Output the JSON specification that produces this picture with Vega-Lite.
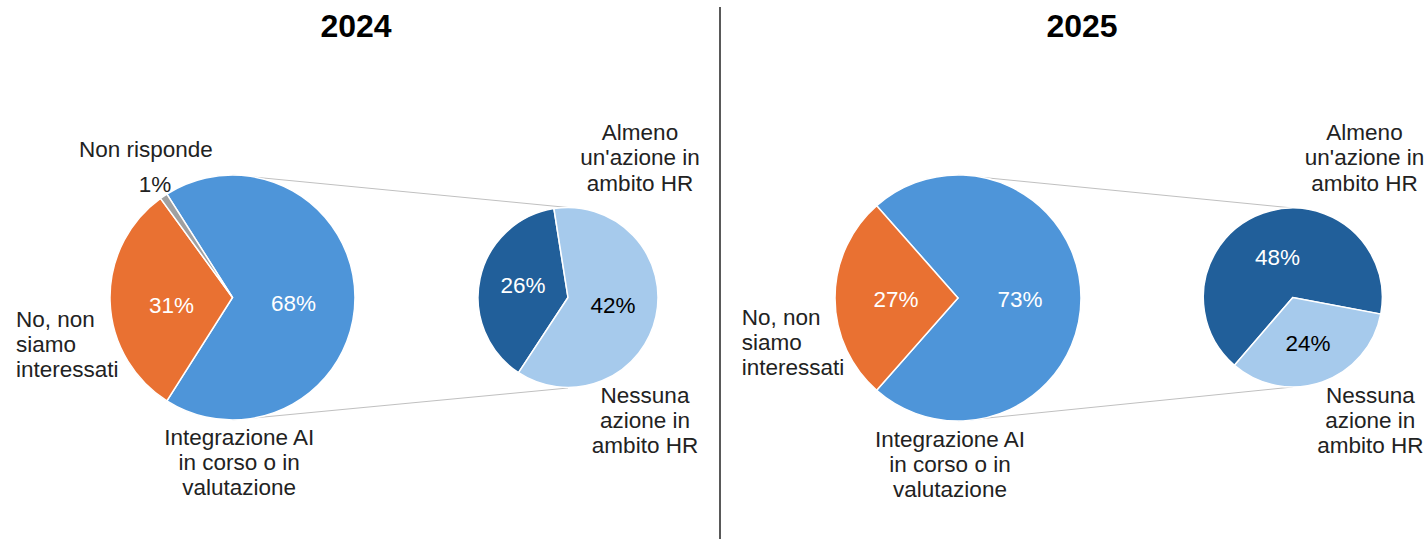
{
  "$schema": "https://vega.github.io/schema/vega-lite/v6.json",
  "padding": {"left": 0, "right": 0, "top": 7, "bottom": 0},
  "spacing": 0,
  "config": {"view": {"stroke": null}, "font": "Liberation Sans"},
  "data": {"values": [
    {"year": "2024", "pie": "main", "category": "Integrazione AI\nin corso o in\nvalutazione", "value": 0.68},
    {"year": "2024", "pie": "main", "category": "No, non\nsiamo\ninteressati", "value": 0.31},
    {"year": "2024", "pie": "main", "category": "Non risponde", "value": 0.01},
    {"year": "2024", "pie": "sub", "category": "Almeno\nun'azione in\nambito HR", "value": 0.26},
    {"year": "2024", "pie": "sub", "category": "Nessuna\nazione in\nambito HR", "value": 0.42},
    {"year": "2025", "pie": "main", "category": "Integrazione AI\nin corso o in\nvalutazione", "value": 0.73},
    {"year": "2025", "pie": "main", "category": "No, non\nsiamo\ninteressati", "value": 0.27},
    {"year": "2025", "pie": "sub", "category": "Almeno\nun'azione in\nambito HR", "value": 0.48},
    {"year": "2025", "pie": "sub", "category": "Nessuna\nazione in\nambito HR", "value": 0.24}
  ]},
  "hconcat": [
    {
      "width": 719, "height": 532,
      "title": {"text": "2024", "fontSize": 32, "fontWeight": "bold", "font": "Liberation Sans", "color": "#000000", "baseline": "alphabetic", "offset": -61.9, "anchor": "middle", "frame": "group", "dx": -3.5},
      "transform": [{"filter": "datum.year == '2024'"}],
      "resolve": {"scale": {"theta": "independent", "y": "independent"}},
      "layer": [
        {
          "transform": [{"aggregate": [{"op": "sum", "field": "value", "as": "total"}], "groupby": ["pie"]}],
          "mark": {"type": "line", "color": "#c0c0c0", "strokeWidth": 1},
          "encoding": {
            "x": {"field": "pie", "type": "nominal", "scale": {"type": "point", "padding": 0, "domain": ["main", "sub"], "range": [232.5, 568]}, "axis": null},
            "y": {"field": "pie", "type": "nominal", "scale": {"type": "point", "padding": 0, "domain": ["main", "sub"], "range": [168, 200.5]}, "axis": null}
          }
        },
        {
          "transform": [{"aggregate": [{"op": "sum", "field": "value", "as": "total"}], "groupby": ["pie"]}],
          "mark": {"type": "line", "color": "#c0c0c0", "strokeWidth": 1},
          "encoding": {
            "x": {"field": "pie", "type": "nominal", "scale": {"type": "point", "padding": 0, "domain": ["main", "sub"], "range": [232.5, 568]}, "axis": null},
            "y": {"field": "pie", "type": "nominal", "scale": {"type": "point", "padding": 0, "domain": ["main", "sub"], "range": [413, 381]}, "axis": null}
          }
        },
        {
          "transform": [{"filter": "datum.pie == 'main'"}],
          "mark": {"type": "arc", "radius": 122.5, "stroke": "#ffffff", "strokeWidth": 1.5},
          "encoding": {
            "x": {"field": "pie", "type": "nominal", "scale": {"type": "point", "padding": 0, "domain": ["main", "sub"], "range": [232.5, 568]}, "axis": null},
            "y": {"field": "pie", "type": "nominal", "scale": {"type": "point", "padding": 0, "domain": ["main", "sub"], "range": [290.5, 290.5]}, "axis": null},
            "theta": {"field": "value", "type": "quantitative", "stack": true, "scale": {"range": [-0.56549, 5.7177]}},
            "order": {"field": "value", "type": "quantitative", "sort": "descending"},
            "color": {"field": "category", "type": "nominal", "legend": null, "scale": {"domain": ["Integrazione AI\nin corso o in\nvalutazione", "No, non\nsiamo\ninteressati", "Non risponde", "Almeno\nun'azione in\nambito HR", "Nessuna\nazione in\nambito HR"], "range": ["#4e95d9", "#e97132", "#a0a0a0", "#215f9a", "#a6caec"]}}
          }
        },
        {
          "transform": [{"filter": "datum.pie == 'sub'"}],
          "mark": {"type": "arc", "radius": 90, "stroke": "#ffffff", "strokeWidth": 1.5},
          "encoding": {
            "x": {"field": "pie", "type": "nominal", "scale": {"type": "point", "padding": 0, "domain": ["main", "sub"], "range": [232.5, 568]}, "axis": null},
            "y": {"field": "pie", "type": "nominal", "scale": {"type": "point", "padding": 0, "domain": ["main", "sub"], "range": [290.5, 290.5]}, "axis": null},
            "theta": {"field": "value", "type": "quantitative", "stack": true, "scale": {"range": [-0.15708, 6.12611]}},
            "order": {"field": "value", "type": "quantitative", "sort": "descending"},
            "color": {"field": "category", "type": "nominal", "legend": null, "scale": {"domain": ["Integrazione AI\nin corso o in\nvalutazione", "No, non\nsiamo\ninteressati", "Non risponde", "Almeno\nun'azione in\nambito HR", "Nessuna\nazione in\nambito HR"], "range": ["#4e95d9", "#e97132", "#a0a0a0", "#215f9a", "#a6caec"]}}
          }
        },
        {
          "transform": [{"filter": "datum.pie == 'main'"}],
          "mark": {"type": "text", "radius": 61, "dy": 6.5, "baseline": "middle", "align": "center", "fontSize": 22.5, "fill": "#ffffff"},
          "encoding": {
            "x": {"field": "pie", "type": "nominal", "scale": {"type": "point", "padding": 0, "domain": ["main", "sub"], "range": [232.5, 568]}, "axis": null},
            "y": {"field": "pie", "type": "nominal", "scale": {"type": "point", "padding": 0, "domain": ["main", "sub"], "range": [290.5, 290.5]}, "axis": null},
            "theta": {"field": "value", "type": "quantitative", "stack": true, "scale": {"range": [-0.56549, 5.7177]}},
            "order": {"field": "value", "type": "quantitative", "sort": "descending"},
            "text": {"field": "value", "type": "quantitative", "format": ".0%", "condition": {"test": "datum.value < 0.05", "value": ""}}
          }
        },
        {
          "transform": [{"filter": "datum.pie == 'main'"}],
          "mark": {"type": "text", "radius": 138, "dy": 1.8, "baseline": "middle", "align": "center", "fontSize": 22.5, "fill": "#222222"},
          "encoding": {
            "x": {"field": "pie", "type": "nominal", "scale": {"type": "point", "padding": 0, "domain": ["main", "sub"], "range": [232.5, 568]}, "axis": null},
            "y": {"field": "pie", "type": "nominal", "scale": {"type": "point", "padding": 0, "domain": ["main", "sub"], "range": [290.5, 290.5]}, "axis": null},
            "theta": {"field": "value", "type": "quantitative", "stack": true, "scale": {"range": [-0.56549, 5.7177]}},
            "order": {"field": "value", "type": "quantitative", "sort": "descending"},
            "text": {"field": "value", "type": "quantitative", "format": ".0%", "condition": {"test": "datum.value >= 0.05", "value": ""}}
          }
        },
        {
          "transform": [{"filter": "datum.pie == 'sub'"}],
          "mark": {"type": "text", "radius": 46, "dy": -1.5, "baseline": "middle", "align": "center", "fontSize": 22.5},
          "encoding": {
            "x": {"field": "pie", "type": "nominal", "scale": {"type": "point", "padding": 0, "domain": ["main", "sub"], "range": [232.5, 568]}, "axis": null},
            "y": {"field": "pie", "type": "nominal", "scale": {"type": "point", "padding": 0, "domain": ["main", "sub"], "range": [290.5, 290.5]}, "axis": null},
            "theta": {"field": "value", "type": "quantitative", "stack": true, "scale": {"range": [-0.15708, 6.12611]}},
            "order": {"field": "value", "type": "quantitative", "sort": "descending"},
            "text": {"field": "value", "type": "quantitative", "format": ".0%"},
            "color": {"condition": {"test": "indexof(datum.category, 'Nessuna') == 0", "value": "#000000"}, "value": "#ffffff"}
          }
        },
        {
          "transform": [{"filter": "datum.category == 'Non risponde'"}],
          "mark": {"type": "text", "align": "center", "baseline": "alphabetic", "dx": -86.7, "dy": -140.5, "fontSize": 22.5, "fill": "#222222"},
          "encoding": {
            "x": {"field": "pie", "type": "nominal", "scale": {"type": "point", "padding": 0, "domain": ["main", "sub"], "range": [232.5, 568]}, "axis": null},
            "y": {"field": "pie", "type": "nominal", "scale": {"type": "point", "padding": 0, "domain": ["main", "sub"], "range": [290.5, 290.5]}, "axis": null},
            "text": {"field": "category"}
          }
        },
        {
          "transform": [{"filter": "indexof(datum.category, 'No, non') == 0"}],
          "mark": {"type": "text", "align": "left", "baseline": "alphabetic", "lineBreak": "\n", "lineHeight": 25, "dx": -216.5, "dy": 29, "fontSize": 22.5, "fill": "#222222"},
          "encoding": {
            "x": {"field": "pie", "type": "nominal", "scale": {"type": "point", "padding": 0, "domain": ["main", "sub"], "range": [232.5, 568]}, "axis": null},
            "y": {"field": "pie", "type": "nominal", "scale": {"type": "point", "padding": 0, "domain": ["main", "sub"], "range": [290.5, 290.5]}, "axis": null},
            "text": {"field": "category"}
          }
        },
        {
          "transform": [{"filter": "indexof(datum.category, 'Integrazione') == 0"}],
          "mark": {"type": "text", "align": "center", "baseline": "alphabetic", "lineBreak": "\n", "lineHeight": 25, "dx": 6.7, "dy": 147.3, "fontSize": 22.5, "fill": "#222222"},
          "encoding": {
            "x": {"field": "pie", "type": "nominal", "scale": {"type": "point", "padding": 0, "domain": ["main", "sub"], "range": [232.5, 568]}, "axis": null},
            "y": {"field": "pie", "type": "nominal", "scale": {"type": "point", "padding": 0, "domain": ["main", "sub"], "range": [290.5, 290.5]}, "axis": null},
            "text": {"field": "category"}
          }
        },
        {
          "transform": [{"filter": "indexof(datum.category, 'Almeno') == 0"}],
          "mark": {"type": "text", "align": "center", "baseline": "alphabetic", "lineBreak": "\n", "lineHeight": 25.5, "dx": 72, "dy": -157.7, "fontSize": 22.5, "fill": "#222222"},
          "encoding": {
            "x": {"field": "pie", "type": "nominal", "scale": {"type": "point", "padding": 0, "domain": ["main", "sub"], "range": [232.5, 568]}, "axis": null},
            "y": {"field": "pie", "type": "nominal", "scale": {"type": "point", "padding": 0, "domain": ["main", "sub"], "range": [290.5, 290.5]}, "axis": null},
            "text": {"field": "category"}
          }
        },
        {
          "transform": [{"filter": "indexof(datum.category, 'Nessuna') == 0"}],
          "mark": {"type": "text", "align": "center", "baseline": "alphabetic", "lineBreak": "\n", "lineHeight": 25, "dx": 77, "dy": 105.7, "fontSize": 22.5, "fill": "#222222"},
          "encoding": {
            "x": {"field": "pie", "type": "nominal", "scale": {"type": "point", "padding": 0, "domain": ["main", "sub"], "range": [232.5, 568]}, "axis": null},
            "y": {"field": "pie", "type": "nominal", "scale": {"type": "point", "padding": 0, "domain": ["main", "sub"], "range": [290.5, 290.5]}, "axis": null},
            "text": {"field": "category"}
          }
        }
      ]
    },
    {
      "width": 2, "height": 532,
      "data": {"values": [{"d": 1}]},
      "mark": {"type": "text"},
      "encoding": {"text": {"value": ""}},
      "view": {"fill": "#595959", "stroke": null}
    },
    {
      "width": 706, "height": 532,
      "title": {"text": "2025", "fontSize": 32, "fontWeight": "bold", "font": "Liberation Sans", "color": "#000000", "baseline": "alphabetic", "offset": -61.9, "anchor": "middle", "frame": "group", "dx": 8},
      "transform": [{"filter": "datum.year == '2025'"}],
      "resolve": {"scale": {"theta": "independent", "y": "independent"}},
      "layer": [
        {
          "transform": [{"aggregate": [{"op": "sum", "field": "value", "as": "total"}], "groupby": ["pie"]}],
          "mark": {"type": "line", "color": "#c0c0c0", "strokeWidth": 1},
          "encoding": {
            "x": {"field": "pie", "type": "nominal", "scale": {"type": "point", "padding": 0, "domain": ["main", "sub"], "range": [237, 571.8]}, "axis": null},
            "y": {"field": "pie", "type": "nominal", "scale": {"type": "point", "padding": 0, "domain": ["main", "sub"], "range": [168, 201]}, "axis": null}
          }
        },
        {
          "transform": [{"aggregate": [{"op": "sum", "field": "value", "as": "total"}], "groupby": ["pie"]}],
          "mark": {"type": "line", "color": "#c0c0c0", "strokeWidth": 1},
          "encoding": {
            "x": {"field": "pie", "type": "nominal", "scale": {"type": "point", "padding": 0, "domain": ["main", "sub"], "range": [237, 571.8]}, "axis": null},
            "y": {"field": "pie", "type": "nominal", "scale": {"type": "point", "padding": 0, "domain": ["main", "sub"], "range": [414, 380]}, "axis": null}
          }
        },
        {
          "transform": [{"filter": "datum.pie == 'main'"}],
          "mark": {"type": "arc", "radius": 123, "stroke": "#ffffff", "strokeWidth": 1.5},
          "encoding": {
            "x": {"field": "pie", "type": "nominal", "scale": {"type": "point", "padding": 0, "domain": ["main", "sub"], "range": [237, 571.8]}, "axis": null},
            "y": {"field": "pie", "type": "nominal", "scale": {"type": "point", "padding": 0, "domain": ["main", "sub"], "range": [291, 290.5]}, "axis": null},
            "theta": {"field": "value", "type": "quantitative", "stack": true, "scale": {"range": [-0.72257, 5.56062]}},
            "order": {"field": "value", "type": "quantitative", "sort": "descending"},
            "color": {"field": "category", "type": "nominal", "legend": null, "scale": {"domain": ["Integrazione AI\nin corso o in\nvalutazione", "No, non\nsiamo\ninteressati", "Non risponde", "Almeno\nun'azione in\nambito HR", "Nessuna\nazione in\nambito HR"], "range": ["#4e95d9", "#e97132", "#a0a0a0", "#215f9a", "#a6caec"]}}
          }
        },
        {
          "transform": [{"filter": "datum.pie == 'sub'"}],
          "mark": {"type": "arc", "radius": 89.5, "stroke": "#ffffff", "strokeWidth": 1.5},
          "encoding": {
            "x": {"field": "pie", "type": "nominal", "scale": {"type": "point", "padding": 0, "domain": ["main", "sub"], "range": [237, 571.8]}, "axis": null},
            "y": {"field": "pie", "type": "nominal", "scale": {"type": "point", "padding": 0, "domain": ["main", "sub"], "range": [291, 290.5]}, "axis": null},
            "theta": {"field": "value", "type": "quantitative", "stack": true, "scale": {"range": [-2.43125, 3.85194]}},
            "order": {"field": "value", "type": "quantitative", "sort": "descending"},
            "color": {"field": "category", "type": "nominal", "legend": null, "scale": {"domain": ["Integrazione AI\nin corso o in\nvalutazione", "No, non\nsiamo\ninteressati", "Non risponde", "Almeno\nun'azione in\nambito HR", "Nessuna\nazione in\nambito HR"], "range": ["#4e95d9", "#e97132", "#a0a0a0", "#215f9a", "#a6caec"]}}
          }
        },
        {
          "transform": [{"filter": "datum.pie == 'main'"}],
          "mark": {"type": "text", "radius": 62, "dy": 2.5, "baseline": "middle", "align": "center", "fontSize": 22.5, "fill": "#ffffff"},
          "encoding": {
            "x": {"field": "pie", "type": "nominal", "scale": {"type": "point", "padding": 0, "domain": ["main", "sub"], "range": [237, 571.8]}, "axis": null},
            "y": {"field": "pie", "type": "nominal", "scale": {"type": "point", "padding": 0, "domain": ["main", "sub"], "range": [291, 290.5]}, "axis": null},
            "theta": {"field": "value", "type": "quantitative", "stack": true, "scale": {"range": [-0.72257, 5.56062]}},
            "order": {"field": "value", "type": "quantitative", "sort": "descending"},
            "text": {"field": "value", "type": "quantitative", "format": ".0%"}
          }
        },
        {
          "transform": [{"filter": "datum.pie == 'sub'"}],
          "mark": {"type": "text", "radius": 46, "dy": 3.5, "baseline": "middle", "align": "center", "fontSize": 22.5},
          "encoding": {
            "x": {"field": "pie", "type": "nominal", "scale": {"type": "point", "padding": 0, "domain": ["main", "sub"], "range": [237, 571.8]}, "axis": null},
            "y": {"field": "pie", "type": "nominal", "scale": {"type": "point", "padding": 0, "domain": ["main", "sub"], "range": [291, 290.5]}, "axis": null},
            "theta": {"field": "value", "type": "quantitative", "stack": true, "scale": {"range": [-2.43125, 3.85194]}},
            "order": {"field": "value", "type": "quantitative", "sort": "descending"},
            "text": {"field": "value", "type": "quantitative", "format": ".0%"},
            "color": {"condition": {"test": "indexof(datum.category, 'Nessuna') == 0", "value": "#000000"}, "value": "#ffffff"}
          }
        },
        {
          "transform": [{"filter": "indexof(datum.category, 'No, non') == 0"}],
          "mark": {"type": "text", "align": "left", "baseline": "alphabetic", "lineBreak": "\n", "lineHeight": 25, "dx": -216.3, "dy": 27.3, "fontSize": 22.5, "fill": "#222222"},
          "encoding": {
            "x": {"field": "pie", "type": "nominal", "scale": {"type": "point", "padding": 0, "domain": ["main", "sub"], "range": [237, 571.8]}, "axis": null},
            "y": {"field": "pie", "type": "nominal", "scale": {"type": "point", "padding": 0, "domain": ["main", "sub"], "range": [291, 290.5]}, "axis": null},
            "text": {"field": "category"}
          }
        },
        {
          "transform": [{"filter": "indexof(datum.category, 'Integrazione') == 0"}],
          "mark": {"type": "text", "align": "center", "baseline": "alphabetic", "lineBreak": "\n", "lineHeight": 25, "dx": -8, "dy": 149, "fontSize": 22.5, "fill": "#222222"},
          "encoding": {
            "x": {"field": "pie", "type": "nominal", "scale": {"type": "point", "padding": 0, "domain": ["main", "sub"], "range": [237, 571.8]}, "axis": null},
            "y": {"field": "pie", "type": "nominal", "scale": {"type": "point", "padding": 0, "domain": ["main", "sub"], "range": [291, 290.5]}, "axis": null},
            "text": {"field": "category"}
          }
        },
        {
          "transform": [{"filter": "indexof(datum.category, 'Almeno') == 0"}],
          "mark": {"type": "text", "align": "center", "baseline": "alphabetic", "lineBreak": "\n", "lineHeight": 25.5, "dx": 71.7, "dy": -157.7, "fontSize": 22.5, "fill": "#222222"},
          "encoding": {
            "x": {"field": "pie", "type": "nominal", "scale": {"type": "point", "padding": 0, "domain": ["main", "sub"], "range": [237, 571.8]}, "axis": null},
            "y": {"field": "pie", "type": "nominal", "scale": {"type": "point", "padding": 0, "domain": ["main", "sub"], "range": [291, 290.5]}, "axis": null},
            "text": {"field": "category"}
          }
        },
        {
          "transform": [{"filter": "indexof(datum.category, 'Nessuna') == 0"}],
          "mark": {"type": "text", "align": "center", "baseline": "alphabetic", "lineBreak": "\n", "lineHeight": 25, "dx": 77.5, "dy": 105.7, "fontSize": 22.5, "fill": "#222222"},
          "encoding": {
            "x": {"field": "pie", "type": "nominal", "scale": {"type": "point", "padding": 0, "domain": ["main", "sub"], "range": [237, 571.8]}, "axis": null},
            "y": {"field": "pie", "type": "nominal", "scale": {"type": "point", "padding": 0, "domain": ["main", "sub"], "range": [291, 290.5]}, "axis": null},
            "text": {"field": "category"}
          }
        }
      ]
    }
  ]
}
